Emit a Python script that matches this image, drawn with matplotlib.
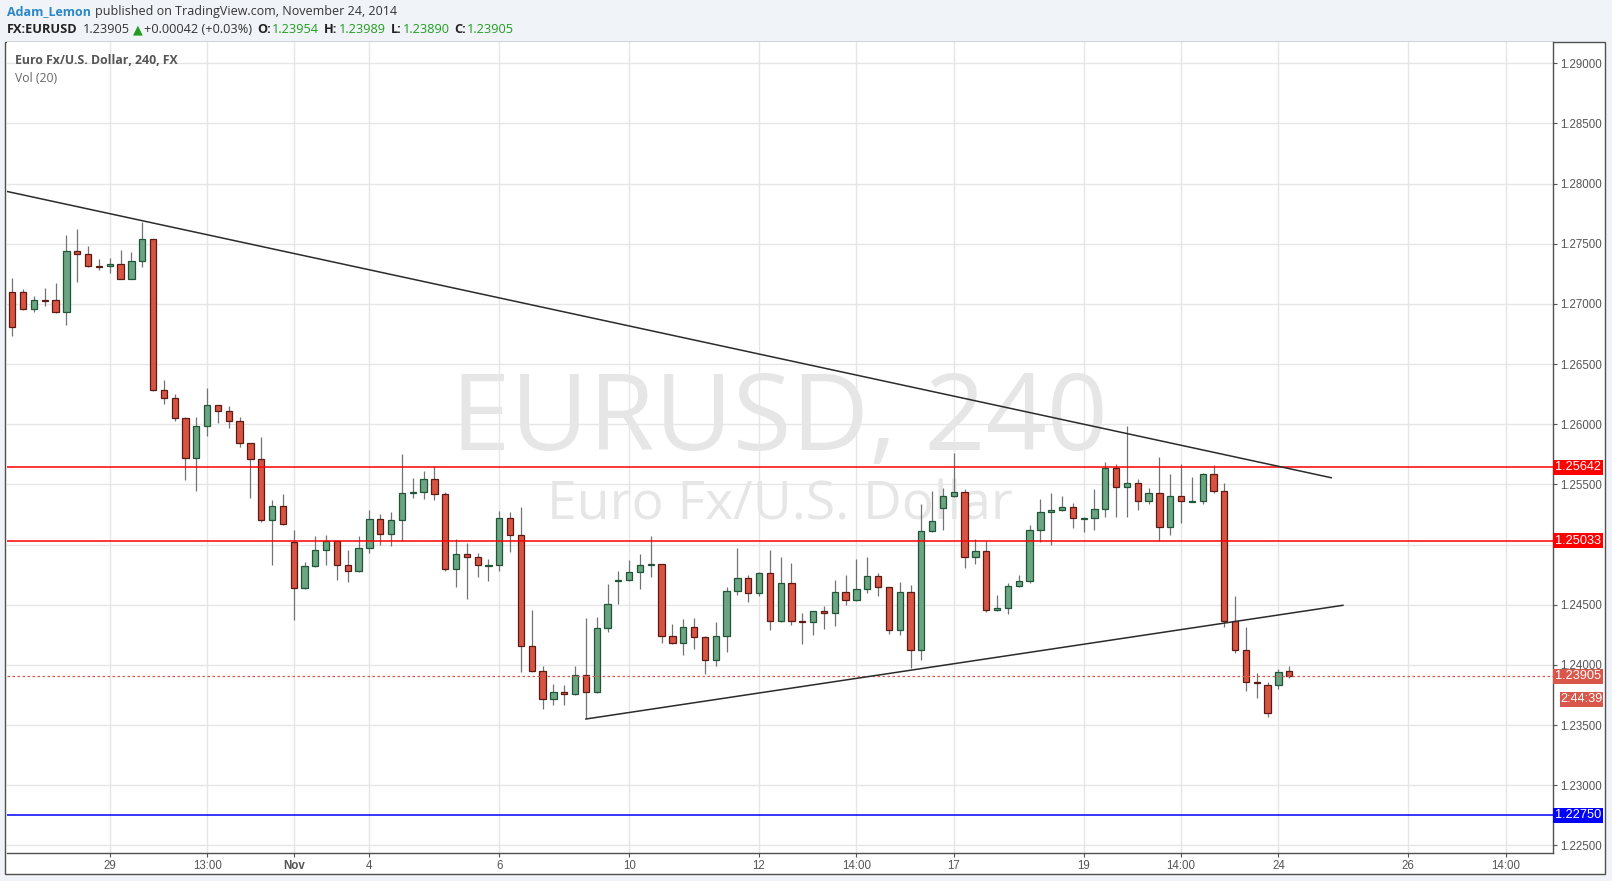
import matplotlib
matplotlib.use("Agg")
import matplotlib.pyplot as plt
import matplotlib.transforms as mtransforms
from matplotlib.patches import Rectangle
import numpy as np

# 4h EURUSD candles (price units)
opens = [1.27097, 1.27097, 1.26955, 1.27032, 1.27030, 1.26931, 1.27437, 1.27413, 1.27315, 1.27313,
         1.27329, 1.27210, 1.27354, 1.27537, 1.26282, 1.26216, 1.26050, 1.25717, 1.25983, 1.26158,
         1.26108, 1.26025, 1.25842, 1.25709, 1.25202, 1.25318, 1.25022, 1.24637, 1.24820, 1.24953,
         1.25027, 1.24828, 1.24778, 1.24969, 1.25210, 1.25086, 1.25202, 1.25426, 1.25435, 1.25543,
         1.25418, 1.24795, 1.24920, 1.24895, 1.24826, 1.24828, 1.25219, 1.25078, 1.24155, 1.23947,
         1.23715, 1.23773, 1.23756, 1.23914, 1.23773, 1.24305, 1.24702, 1.24704, 1.24770, 1.24828,
         1.24837, 1.24238, 1.24180, 1.24313, 1.24230, 1.24039, 1.24238, 1.24612, 1.24720, 1.24596,
         1.24762, 1.24363, 1.24679, 1.24362, 1.24355, 1.24446, 1.24429, 1.24604, 1.24537, 1.24629,
         1.24737, 1.24645, 1.24288, 1.24604, 1.24122, 1.25111, 1.25302, 1.25401, 1.25435, 1.24895,
         1.24944, 1.24454, 1.24471, 1.24653, 1.24695, 1.25119, 1.25268, 1.25285, 1.25310, 1.25217,
         1.25219, 1.25293, 1.25634, 1.25476, 1.25509, 1.25360, 1.25426, 1.25144, 1.25401, 1.25358,
         1.25360, 1.25584, 1.25443, 1.24363, 1.24121, 1.23854, 1.23830, 1.23830, 1.23954]
highs = [1.27216, 1.27122, 1.27063, 1.27130, 1.27174, 1.27573, 1.27623, 1.27482, 1.27374, 1.27382,
         1.27448, 1.27432, 1.27681, 1.27540, 1.26368, 1.26249, 1.26058, 1.26058, 1.26299, 1.26160,
         1.26149, 1.26058, 1.25845, 1.25895, 1.25368, 1.25418, 1.25119, 1.24853, 1.25072, 1.25080,
         1.25036, 1.24955, 1.25072, 1.25285, 1.25252, 1.25268, 1.25750, 1.25551, 1.25612, 1.25654,
         1.25435, 1.25044, 1.25011, 1.24928, 1.24878, 1.25277, 1.25269, 1.25310, 1.24454, 1.23989,
         1.23839, 1.23831, 1.23989, 1.24388, 1.24396, 1.24670, 1.24778, 1.24870, 1.24920, 1.25069,
         1.24840, 1.24338, 1.24379, 1.24388, 1.24238, 1.24355, 1.24645, 1.24970, 1.24745, 1.24770,
         1.24953, 1.24895, 1.24845, 1.24429, 1.24450, 1.24488, 1.24704, 1.24745, 1.24878, 1.24895,
         1.24762, 1.24648, 1.24687, 1.24662, 1.25335, 1.25443, 1.25468, 1.25759, 1.25460, 1.25044,
         1.25027, 1.24579, 1.24678, 1.24745, 1.25160, 1.25377, 1.25426, 1.25401, 1.25343, 1.25227,
         1.25460, 1.25684, 1.25667, 1.25986, 1.25543, 1.25468, 1.25726, 1.25584, 1.25667, 1.25559,
         1.25593, 1.25659, 1.25509, 1.24570, 1.24313, 1.23930, 1.23855, 1.23966, 1.23989]
lows = [1.26737, 1.26950, 1.26936, 1.26986, 1.26928, 1.26828, 1.27185, 1.27304, 1.27285, 1.27260,
        1.27205, 1.27205, 1.27310, 1.26280, 1.26171, 1.26030, 1.25540, 1.25448, 1.25906, 1.26014,
        1.25972, 1.25814, 1.25390, 1.25185, 1.24833, 1.25165, 1.24374, 1.24635, 1.24818, 1.24833,
        1.24709, 1.24692, 1.24775, 1.24928, 1.24994, 1.24986, 1.25030, 1.25385, 1.25382, 1.25374,
        1.24784, 1.24651, 1.24551, 1.24734, 1.24701, 1.24784, 1.24936, 1.23945, 1.23939, 1.23632,
        1.23665, 1.23665, 1.23748, 1.23557, 1.23770, 1.24271, 1.24510, 1.24700, 1.24634, 1.24729,
        1.24180, 1.24172, 1.24080, 1.24130, 1.23922, 1.23989, 1.24105, 1.24579, 1.24521, 1.24571,
        1.24288, 1.24360, 1.24330, 1.24172, 1.24247, 1.24296, 1.24321, 1.24496, 1.24535, 1.24595,
        1.24570, 1.24255, 1.24246, 1.23972, 1.24039, 1.25108, 1.25119, 1.25393, 1.24803, 1.24836,
        1.24437, 1.24450, 1.24421, 1.24650, 1.24678, 1.25019, 1.24994, 1.25282, 1.25136, 1.25102,
        1.25119, 1.25227, 1.25227, 1.25227, 1.25285, 1.25335, 1.25027, 1.25077, 1.25177, 1.25355,
        1.25335, 1.25426, 1.24313, 1.24102, 1.23786, 1.23728, 1.23570, 1.23803, 1.23890]
closes = [1.26806, 1.26955, 1.27030, 1.27028, 1.26931, 1.27437, 1.27413, 1.27313, 1.27311, 1.27329,
          1.27210, 1.27354, 1.27537, 1.26282, 1.26216, 1.26050, 1.25717, 1.25983, 1.26158, 1.26108,
          1.26025, 1.25842, 1.25709, 1.25202, 1.25318, 1.25169, 1.24637, 1.24820, 1.24953, 1.25027,
          1.24828, 1.24778, 1.24969, 1.25210, 1.25086, 1.25202, 1.25426, 1.25435, 1.25543, 1.25418,
          1.24795, 1.24920, 1.24895, 1.24828, 1.24830, 1.25219, 1.25078, 1.24155, 1.23947, 1.23715,
          1.23773, 1.23756, 1.23914, 1.23773, 1.24305, 1.24504, 1.24706, 1.24770, 1.24828, 1.24837,
          1.24238, 1.24180, 1.24313, 1.24230, 1.24039, 1.24238, 1.24612, 1.24720, 1.24596, 1.24762,
          1.24363, 1.24679, 1.24363, 1.24358, 1.24446, 1.24429, 1.24604, 1.24537, 1.24629, 1.24737,
          1.24645, 1.24288, 1.24604, 1.24122, 1.25111, 1.25194, 1.25401, 1.25435, 1.24895, 1.24944,
          1.24454, 1.24471, 1.24653, 1.24695, 1.25119, 1.25268, 1.25285, 1.25310, 1.25219, 1.25221,
          1.25293, 1.25634, 1.25476, 1.25509, 1.25360, 1.25426, 1.25144, 1.25401, 1.25360, 1.25362,
          1.25584, 1.25443, 1.24363, 1.24121, 1.23855, 1.23850, 1.23603, 1.23938, 1.23905]

# date labels on the time axis (bar index -> label)
tick_bars = [9, 18, 26, 33, 45, 57, 69, 78, 87, 99, 108, 117, 129, 138]
tick_labels = ["29", "13:00", "Nov", "4", "6", "10", "12", "14:00", "17", "19", "14:00", "24", "26", "14:00"]
price_ticks = [1.225, 1.230, 1.235, 1.240, 1.245, 1.250, 1.255, 1.260, 1.265, 1.270, 1.275, 1.280, 1.285, 1.290]

# drawings
upper_trend_x = [-0.49, 121.88]
upper_trend_y = [1.27935, 1.25556]
lower_trend_x = [53.0, 122.96]
lower_trend_y = [1.23551, 1.24496]
resistance_levels = [1.25642, 1.25033]
support_level = 1.22750
last_price = 1.23905
countdown = "2:44:39"

W, H = 1612, 881
fig = plt.figure(figsize=(W / 100, H / 100), dpi=100, facecolor="#f0f3f7")

# chart panel frame
fig.add_artist(Rectangle((5 / W, 1 - 874 / H), 1600.3 / W, 832.3 / H, transform=fig.transFigure,
                         facecolor="white", edgecolor="#505050", lw=1, zorder=-5))

left, right, top, bottom = 6.7, 1553.3, 42.0, 853.3
ax = fig.add_axes([left / W, 1 - bottom / H, (right - left) / W, (bottom - top) / H])
ax.set_facecolor("white")
ax.set_xlim(-0.52, 142.4)
ax.set_ylim(1.22435, 1.29177)

n = len(opens)
x = np.arange(n)
o = np.array(opens); h = np.array(highs); l = np.array(lows); c = np.array(closes)
up = c >= o

bull_fill, bull_edge = "#6ba583", "#225437"
bear_fill, bear_edge = "#d75442", "#5b1a13"

ax.vlines(x, l, h, color="#737375", lw=0.9, zorder=2)
body_h = np.maximum(np.abs(c - o), 0.00006)
body_b = np.minimum(o, c)
ax.bar(x[up], body_h[up], bottom=body_b[up], width=0.58, color=bull_fill, edgecolor=bull_edge, lw=0.9, zorder=3)
ax.bar(x[~up], body_h[~up], bottom=body_b[~up], width=0.58, color=bear_fill, edgecolor=bear_edge, lw=0.9, zorder=3)

# horizontal levels
for lv in resistance_levels:
    ax.axhline(lv, color="#ff0000", lw=1.1, zorder=4)
ax.axhline(support_level, color="#0000ff", lw=1.1, zorder=4)
ax.axhline(last_price, color="#d9574a", lw=0.9, ls=(0, (2, 2)), zorder=4)

# trend lines
ax.plot(upper_trend_x, upper_trend_y, color="#2b2b2b", lw=1.1, zorder=5)
ax.plot(lower_trend_x, lower_trend_y, color="#2b2b2b", lw=1.1, zorder=5)

# watermark
ax.text(779 / W, 1 - 450 / H, "EURUSD, 240", transform=fig.transFigure, ha="center", va="baseline",
        fontsize=77, color="#e6e6e6", family="Open Sans", zorder=0.2)
ax.text(780 / W, 1 - 520 / H, "Euro Fx/U.S. Dollar", transform=fig.transFigure, ha="center", va="baseline",
        fontsize=38.5, color="#e6e6e6", family="Open Sans", zorder=0.2)

# axes styling
for s in ["top", "left"]:
    ax.spines[s].set_visible(False)
for s in ["right", "bottom"]:
    ax.spines[s].set_color("#505050")
    ax.spines[s].set_linewidth(1)
ax.grid(color="#e6e6e6", lw=1)
ax.set_axisbelow(True)

ax.yaxis.tick_right()
ax.set_yticks(price_ticks)
ax.set_yticklabels(["" if abs(p - 1.25) < 1e-9 else "%.5f" % p for p in price_ticks])
ax.set_xticks(tick_bars)
ax.set_xticklabels(tick_labels)
ax.tick_params(axis="both", colors="#555555", labelsize=8.3, length=3, width=0.8, pad=2)
for t in ax.get_xticklabels() + ax.get_yticklabels():
    t.set_family("Liberation Sans")
for t in ax.get_xticklabels():
    if t.get_text() == "Nov":
        t.set_fontweight("bold")

# price tags on the right scale
trans = mtransforms.blended_transform_factory(ax.transAxes, ax.transData)
ppu = (bottom - top) / (1.29177 - 1.22435)
bw = (1602.7 - right) / (right - left)


def tag(price, text, color, x0=1.0, hpx=15.5):
    hh = hpx / ppu
    ax.add_patch(Rectangle((x0, price - hh / 2), 1.0 + bw - x0, hh, transform=trans,
                           facecolor=color, edgecolor="none", clip_on=False, zorder=6))
    ax.text(x0 + (1.0 + bw - x0) / 2, price, text, transform=trans, ha="center", va="center",
            color="white", fontsize=9.2, family="Liberation Sans", clip_on=False, zorder=7)


for lv in resistance_levels:
    tag(lv, "%.5f" % lv, "#ff0000")
tag(support_level, "%.5f" % support_level, "#0000ff")
tag(last_price, "%.5f" % last_price, "#d9574a")
tag(last_price - 23.0 / ppu, countdown, "#d9574a", x0=(1560 - left) / (right - left), hpx=14.5)

# header and legend text
renderer = fig.canvas.get_renderer()
fam = ["Open Sans", "DejaVu Sans"]


def chain(parts, x0, ymid, size):
    xx = x0
    for s, col, wt, gap in parts:
        t = fig.text(xx / W, 1 - ymid / H, s, color=col, fontweight=wt, fontsize=size,
                     family=fam, va="center", ha="left")
        bb = t.get_window_extent(renderer)
        xx = bb.x1 + gap


green = "#1f9e1f"
chain([("Adam_Lemon", "#2a87c8", "bold", 4),
       ("published on TradingView.com, November 24, 2014", "#333333", "normal", 0)], 7, 11.5, 9.0)
chain([("FX:EURUSD", "#222222", "bold", 5),
       ("1.23905", "#333333", "normal", 3),
       ("\u25b2", green, "normal", 2),
       ("+0.00042 (+0.03%)", "#333333", "normal", 5),
       ("O:", "#222222", "bold", 1), ("1.23954", green, "normal", 5),
       ("H:", "#222222", "bold", 1), ("1.23989", green, "normal", 5),
       ("L:", "#222222", "bold", 1), ("1.23890", green, "normal", 5),
       ("C:", "#222222", "bold", 1), ("1.23905", green, "normal", 0)], 7, 29.5, 9.2)

fig.text(15 / W, 1 - 60 / H, "Euro Fx/U.S. Dollar, 240, FX", color="#555555", fontweight="bold",
         fontsize=8.8, family=fam, va="center", ha="left")
fig.text(15 / W, 1 - 78 / H, "Vol (20)", color="#666666", fontsize=8.8, family=fam, va="center", ha="left")

fig.savefig("out.png", dpi=100, facecolor=fig.get_facecolor())
